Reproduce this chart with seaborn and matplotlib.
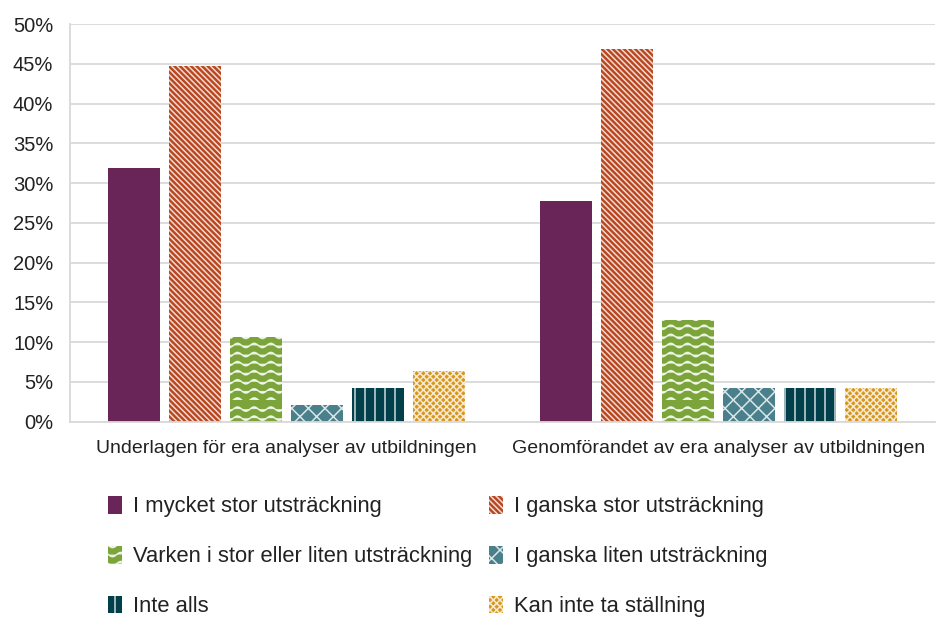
import warnings
import numpy as np
import pandas as pd
import matplotlib
matplotlib.use("Agg")
import matplotlib.pyplot as plt
import matplotlib.hatch as mhatch
from matplotlib.path import Path
from matplotlib.ticker import PercentFormatter, MultipleLocator
import seaborn as sns

warnings.filterwarnings("ignore")

# data (percent of respondents)
fragor = ["Underlagen för era analyser av utbildningen",
          "Genomförandet av era analyser av utbildningen"]
svar = ["I mycket stor utsträckning", "I ganska stor utsträckning",
        "Varken i stor eller liten utsträckning", "I ganska liten utsträckning",
        "Inte alls", "Kan inte ta ställning"]
underlagen = [31.9, 44.7, 10.6, 2.1, 4.3, 6.4]
genomforandet = [27.7, 46.8, 12.8, 4.3, 4.3, 4.3]

farger = ["#6A2558", "#B9461F", "#7BA43B", "#4A808B", "#013F4B", "#D7961C"]
monster = ["", "\\" * 6, "~", "xx", "!", "x" * 5]


# wavy hatch, matplotlib has none of its own
class WaveHatch(mhatch.HatchPatternBase):
    def __init__(self, hatch, density):
        self.num_lines = hatch.count("~") * 11
        self.pts = 61
        self.num_vertices = self.num_lines * self.pts

    def set_vertices_and_codes(self, vertices, codes):
        xs = np.linspace(0, 1, self.pts)
        steps = np.linspace(0, 1, self.num_lines, endpoint=False)
        for i, y0 in enumerate(steps):
            sl = slice(i * self.pts, (i + 1) * self.pts)
            vertices[sl, 0] = xs
            vertices[sl, 1] = y0 + 0.022 * np.sin(2 * np.pi * 6 * xs)
            codes[sl] = Path.LINETO
            codes[i * self.pts] = Path.MOVETO


# vertical stripes, 10 per tile
class StripeHatch(mhatch.HatchPatternBase):
    def __init__(self, hatch, density):
        self.num_lines = hatch.count("!") * 10
        self.num_vertices = self.num_lines * 2

    def set_vertices_and_codes(self, vertices, codes):
        steps = np.linspace(0, 1, self.num_lines, endpoint=False) + 0.05
        vertices[0::2, 0] = steps
        vertices[0::2, 1] = 0.0
        vertices[1::2, 0] = steps
        vertices[1::2, 1] = 1.0
        codes[0::2] = Path.MOVETO
        codes[1::2] = Path.LINETO


mhatch._hatch_types.extend([WaveHatch, StripeHatch])
mhatch._validate_hatch_pattern = lambda h: None

df = pd.DataFrame({
    "fraga": np.repeat(fragor, len(svar)),
    "svar": svar * len(fragor),
    "andel": underlagen + genomforandet,
})

sns.set_style("white")
plt.rcParams["font.family"] = ["Liberation Sans", "DejaVu Sans"]
plt.rcParams["hatch.linewidth"] = 1.1

fig = plt.figure(figsize=(9.36, 6.19), dpi=100)
ax = fig.add_axes([0.0748, 0.3187, 0.924, 0.6425])

sns.barplot(data=df, x="fraga", y="andel", hue="svar", hue_order=svar,
            palette=farger, saturation=1, width=0.846, gap=0.15,
            legend=False, ax=ax)

for cont, h, c in zip(ax.containers, monster, farger):
    for bar in cont:
        bar.set_hatch(h)
        bar.set_edgecolor((1, 1, 1, 0.8) if h else c)
        bar.set_linewidth(0)

ax.set_ylim(0, 50)
ax.set_xlim(-0.5, 1.5)
ax.yaxis.set_major_locator(MultipleLocator(5))
ax.yaxis.set_major_formatter(PercentFormatter(decimals=0))
ax.grid(axis="y", color="#D9D9D9", linewidth=1.3)
ax.set_axisbelow(True)
ax.set_xlabel("")
ax.set_ylabel("")
sns.despine(ax=ax, top=True, right=True)
for side in ["left", "bottom"]:
    ax.spines[side].set_color("#D9D9D9")
    ax.spines[side].set_linewidth(1.3)
ax.tick_params(axis="y", length=4, color="#D9D9D9", width=1.3, pad=8,
               labelsize=14.5, labelcolor="#222222")
ax.tick_params(axis="x", length=0, pad=13, labelsize=14, labelcolor="#222222")

# legend filled row by row like the original
handles = [cont.patches[0] for cont in ax.containers]
order = [0, 2, 4, 1, 3, 5]
fig.legend([handles[i] for i in order], [svar[i] for i in order],
           loc="upper left", bbox_to_anchor=(0.1154, 0.1985),
           ncol=2, frameon=False, fontsize=15.8, handlelength=0.65,
           handleheight=0.85, handletextpad=0.5, labelspacing=1.3,
           columnspacing=0.75, borderpad=0, borderaxespad=0,
           labelcolor="#222222")

fig.savefig("out.png", dpi=100)
